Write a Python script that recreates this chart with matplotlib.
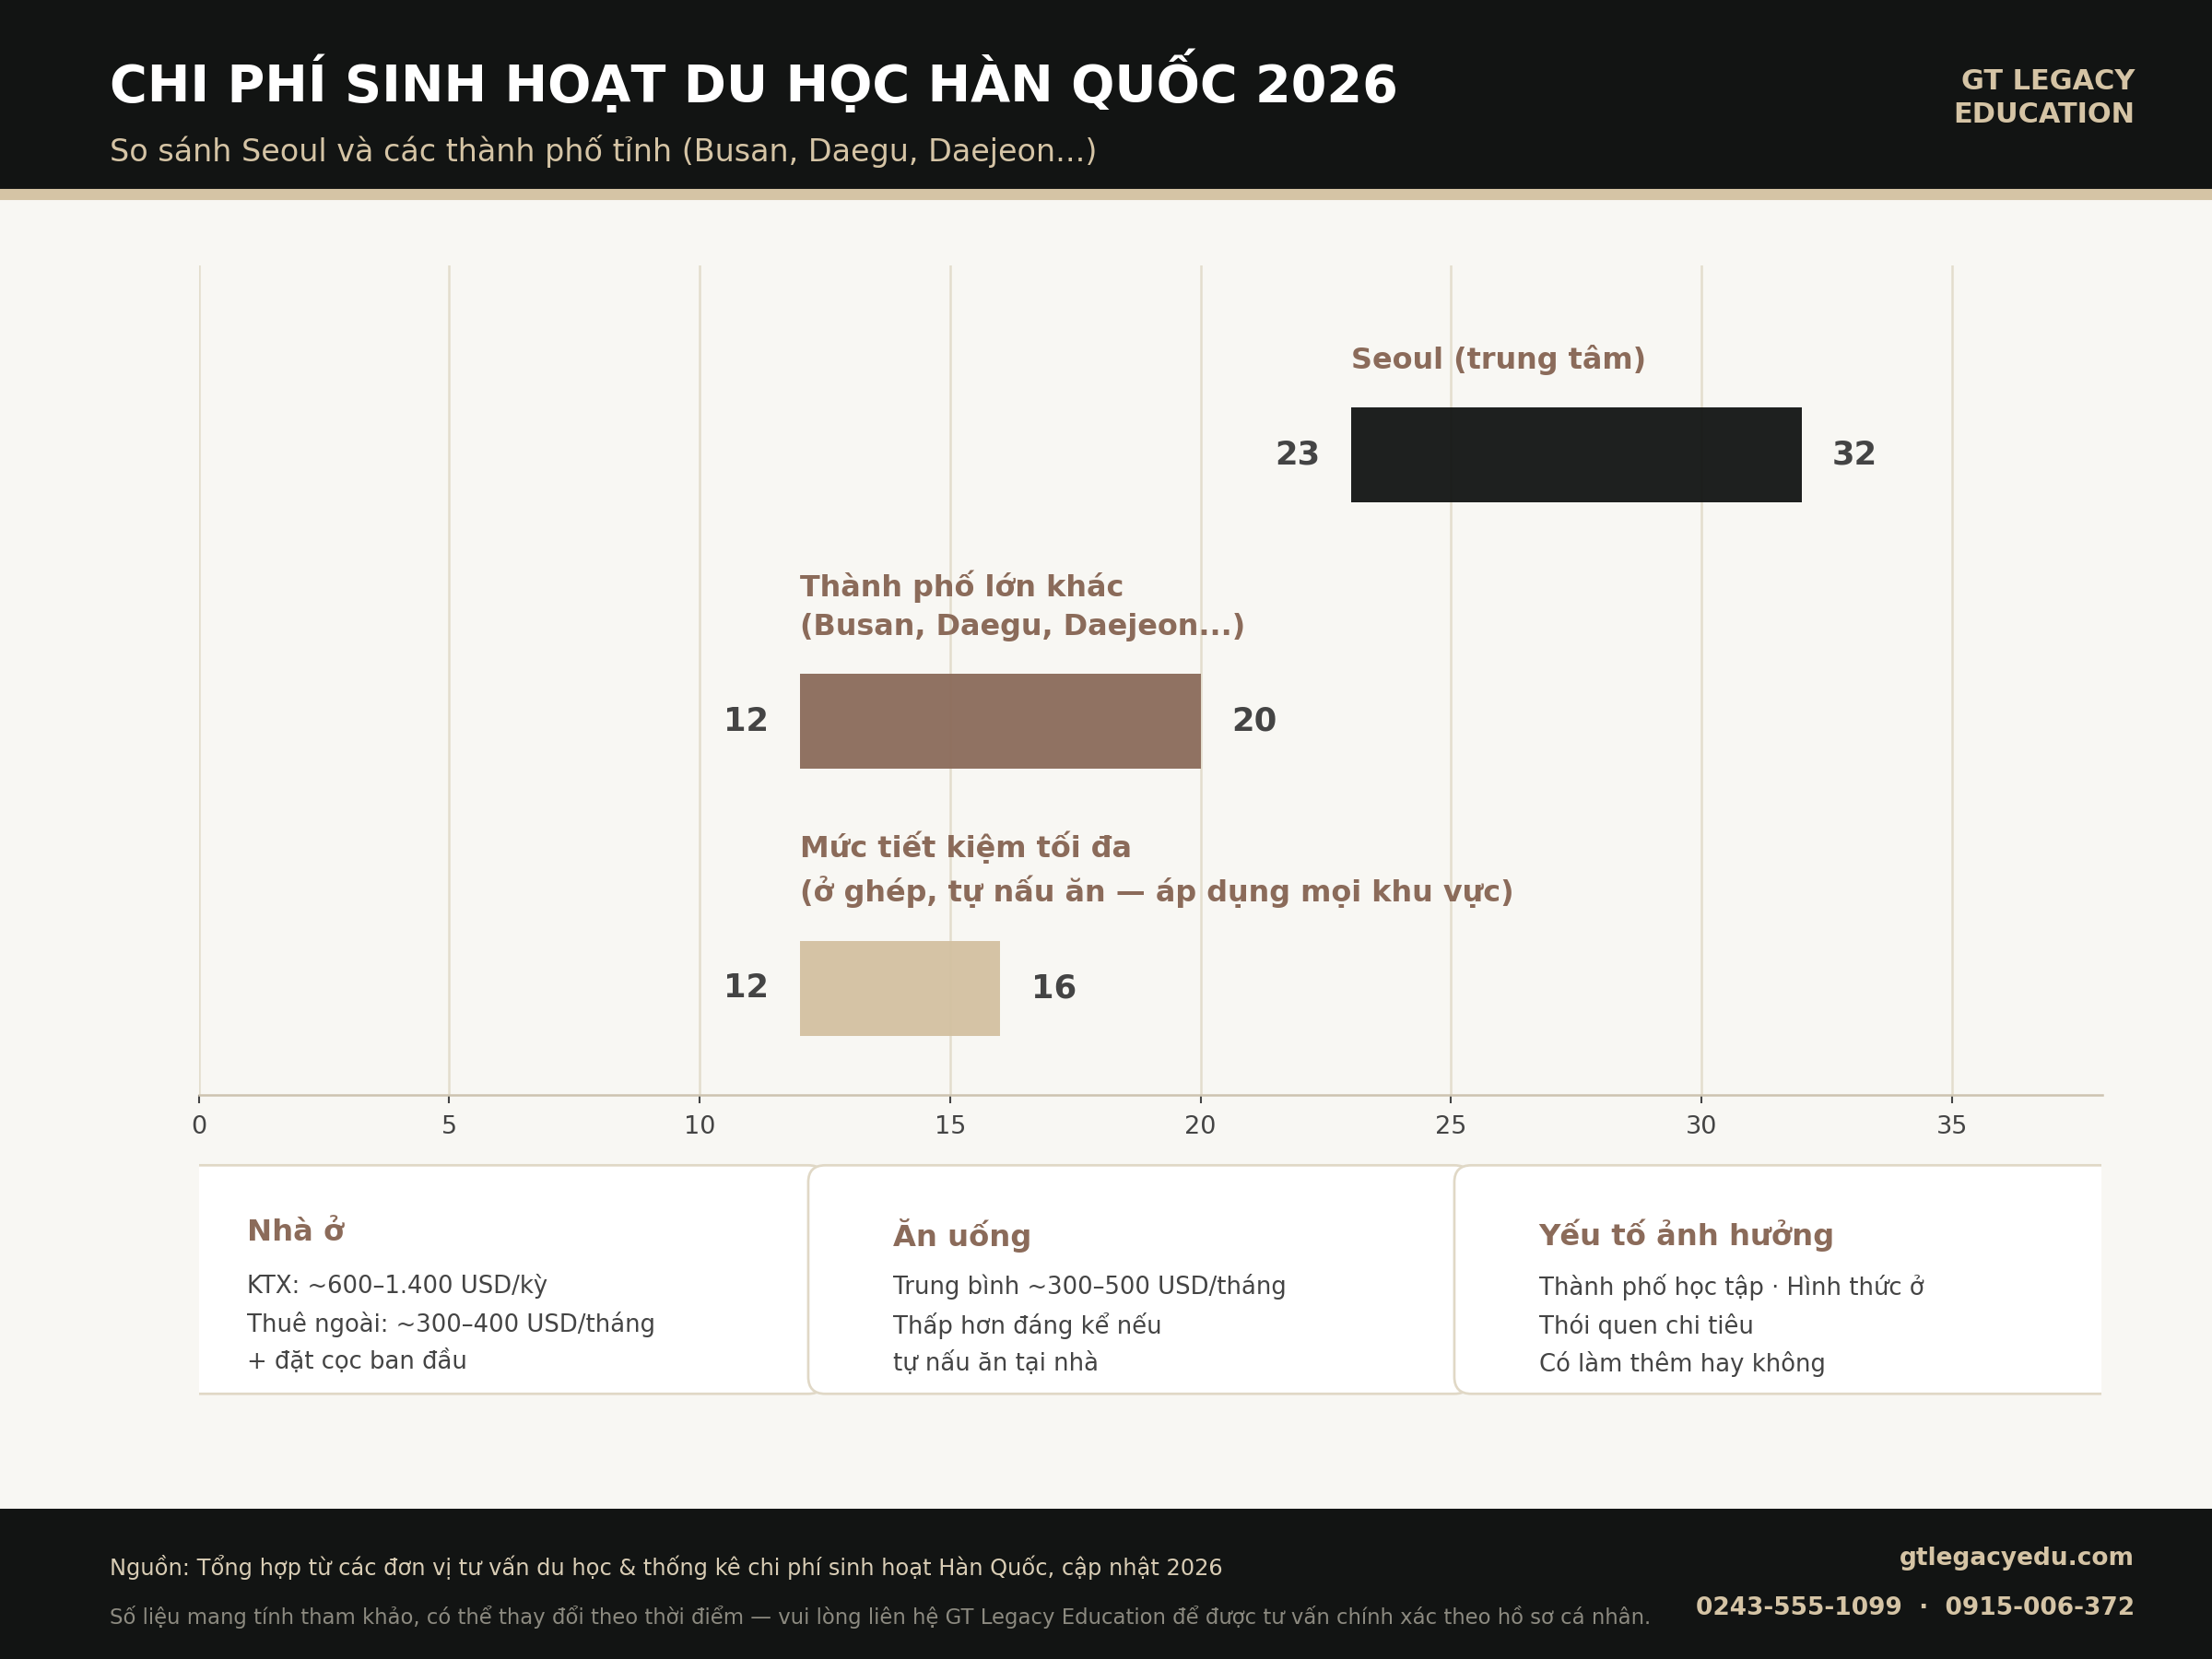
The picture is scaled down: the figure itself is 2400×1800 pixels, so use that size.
import matplotlib
matplotlib.use('Agg')
import matplotlib.pyplot as plt
from matplotlib.patches import Rectangle, FancyBboxPatch

# colours
BG = '#f8f7f3'
DARK = '#121413'
TAN = '#d5c4a5'
BROWN = '#8b6b5a'
GREY = '#444444'

# data (triệu KRW / năm)
categories = ['Mức tiết kiệm tối đa\n(ở ghép, tự nấu ăn — áp dụng mọi khu vực)',
              'Thành phố lớn khác\n(Busan, Daegu, Daejeon...)',
              'Seoul (trung tâm)']
low = [12, 12, 23]
high = [16, 20, 32]
bar_colors = ['#d3c1a1', BROWN, DARK]
xticks = [0, 5, 10, 15, 20, 25, 30, 35]

card_titles = ['Nhà ở', 'Ăn uống', 'Yếu tố ảnh hưởng']
card_bodies = ['KTX: ~600–1.400 USD/kỳ\nThuê ngoài: ~300–400 USD/tháng\n+ đặt cọc ban đầu',
               'Trung bình ~300–500 USD/tháng\nThấp hơn đáng kể nếu\ntự nấu ăn tại nhà',
               'Thành phố học tập · Hình thức ở\nThói quen chi tiêu\nCó làm thêm hay không']

title = 'CHI PHÍ SINH HOẠT DU HỌC HÀN QUỐC 2026'
subtitle = 'So sánh Seoul và các thành phố tỉnh (Busan, Daegu, Daejeon...)'
brand = 'GT LEGACY\nEDUCATION'
source = 'Nguồn: Tổng hợp từ các đơn vị tư vấn du học & thống kê chi phí sinh hoạt Hàn Quốc, cập nhật 2026'
note = 'Số liệu mang tính tham khảo, có thể thay đổi theo thời điểm — vui lòng liên hệ GT Legacy Education để được tư vấn chính xác theo hồ sơ cá nhân.'
website = 'gtlegacyedu.com'
phones = '0243-555-1099  ·  0915-006-372'

fig = plt.figure(figsize=(16, 12), dpi=150, facecolor=BG)

# header + footer bands
fig.add_artist(Rectangle((0, 0.8852), 1, 0.1148, transform=fig.transFigure, color=DARK, zorder=0))
fig.add_artist(Rectangle((0, 0.8801), 1, 0.0052, transform=fig.transFigure, color=TAN, zorder=0))
fig.add_artist(Rectangle((0, 0), 1, 0.0901, transform=fig.transFigure, color=DARK, zorder=0))

fig.text(0.0497, 0.9515, title, color='white', fontsize=26.7, fontweight='bold', va='center')
fig.text(0.0497, 0.909, subtitle, color=TAN, fontsize=16, va='center')
fig.text(0.965, 0.941, brand, color=TAN, fontsize=14.6, fontweight='bold',
         ha='right', va='center', multialignment='right', linespacing=1.3)

# main chart
ax = fig.add_axes([0.0899, 0.340, 0.8604, 0.500])
ax.set_facecolor(BG)
ypos = list(range(len(categories)))
widths = [h - l for l, h in zip(low, high)]
ax.barh(ypos, widths, left=low, height=0.355, color=bar_colors, alpha=0.95, zorder=2)

for y, l, h, lab in zip(ypos, low, high, categories):
    ax.annotate(str(l), (l, y), xytext=(-16, 0), textcoords='offset points',
                ha='right', va='center', fontsize=17, fontweight='bold', color=GREY)
    ax.annotate(str(h), (h, y), xytext=(16, 0), textcoords='offset points',
                ha='left', va='center', fontsize=17, fontweight='bold', color=GREY)
    ax.text(l, y + 0.30, lab, ha='left', va='bottom', fontsize=15.3,
            fontweight='bold', color=BROWN, linespacing=1.45)

ax.set_xlim(0, 38)
ax.set_ylim(-0.40, 2.71)
ax.set_xticks(xticks)
ax.set_yticks([])
ax.grid(axis='x', color='#e3ddcd', linewidth=1.2)
ax.set_axisbelow(True)
for s in ['top', 'right', 'left']:
    ax.spines[s].set_visible(False)
ax.spines['bottom'].set_color('#cdc3b0')
ax.spines['bottom'].set_linewidth(1.2)
ax.tick_params(axis='x', colors=GREY, labelsize=13, length=4.5, width=1, pad=6)

# info cards
axc = fig.add_axes([0.0899, 0.1539, 0.8603, 0.1488])
axc.set_xlim(0, 1349)
axc.set_ylim(0, 175)
axc.axis('off')
for i, (t, b) in enumerate(zip(card_titles, card_bodies)):
    x0 = -26 + i * 458
    axc.add_patch(FancyBboxPatch((x0, 7), 470, 162, boxstyle='round,pad=0,rounding_size=12',
                                 facecolor='white', edgecolor='#e0d8c6', linewidth=1.3))
    axc.text(x0 + 60, 131, t, ha='left', va='top', fontsize=15.5, fontweight='bold', color=BROWN)
    axc.text(x0 + 60, 92, b, ha='left', va='top', fontsize=12.4, color=GREY, linespacing=1.62)

# footer
fig.text(0.0497, 0.0553, source, color='#d9cdb5', fontsize=11.6, va='center')
fig.text(0.0497, 0.0255, note, color='#8c8a80', fontsize=10.9, va='center')
fig.text(0.965, 0.0604, website, color=TAN, fontsize=12.7, fontweight='bold', ha='right', va='center')
fig.text(0.965, 0.0306, phones, color=TAN, fontsize=12.7, fontweight='bold', ha='right', va='center')

fig.savefig('out.png', dpi=150, facecolor=BG)
